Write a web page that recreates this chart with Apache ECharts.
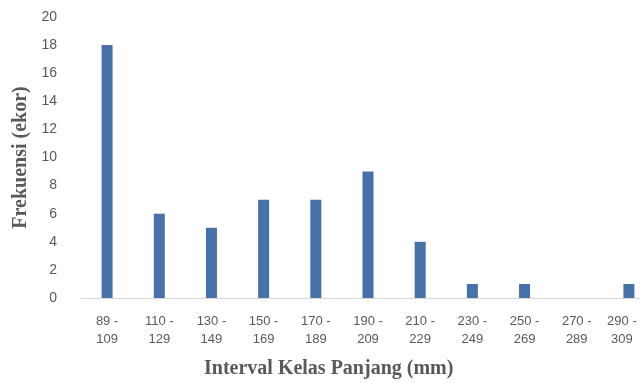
<!DOCTYPE html>
<html>
<head>
<meta charset="utf-8">
<script src="https://cdn.jsdelivr.net/npm/echarts@6/dist/echarts.min.js"></script>
<style>html,body{margin:0;padding:0;background:#fff}#c{width:640px;height:383px}</style>
</head>
<body>
<div id="c"></div>
<script>
const categories = ['89 -\n109','110 -\n129','130 -\n149','150 -\n169','170 -\n189','190 -\n209','210 -\n229','230 -\n249','250 -\n269','270 -\n289','290 -\n309'];
const frekuensi = [18, 6, 5, 7, 7, 9, 4, 1, 1, 0, 1];
const yTicks = { min: 0, max: 20, interval: 2 };
const xTitle = 'Interval Kelas Panjang (mm)';
const yTitle = 'Frekuensi (ekor)';

const catData = categories.map((c, i) => i === categories.length - 1
  ? { value: c, textStyle: { padding: [0, 14, 0, 0] } }
  : c);

const chart = echarts.init(document.getElementById('c'), null, { renderer: 'canvas' });
chart.setOption({
  animation: false,
  backgroundColor: '#ffffff',
  grid: { left: 81, width: 574, top: 17, bottom: 85, outerBoundsMode: 'none', containLabel: false },
  xAxis: {
    type: 'category',
    data: catData,
    axisLine: { lineStyle: { color: '#d9d9d9', width: 1 } },
    axisTick: { show: false },
    axisLabel: { color: '#595959', fontFamily: 'Liberation Sans', fontSize: 13, lineHeight: 18, margin: 14, interval: 0 }
  },
  yAxis: {
    type: 'value',
    min: yTicks.min, max: yTicks.max, interval: yTicks.interval,
    splitLine: { show: false },
    axisLine: { show: false },
    axisTick: { show: false },
    axisLabel: { color: '#595959', fontFamily: 'Liberation Sans', fontSize: 14, margin: 24 },
    name: yTitle,
    nameLocation: 'middle',
    nameGap: 50,
    nameRotate: 90,
    nameTextStyle: { fontFamily: 'Liberation Serif', fontWeight: 'bold', fontSize: 20, color: '#595959' }
  },
  graphic: [{
    type: 'text',
    left: 330 - 126, top: 359,
    style: { text: xTitle, font: 'bold 20px "Liberation Serif"', fill: '#595959' }
  }],
  series: [{
    type: 'bar',
    data: frekuensi,
    barWidth: 11,
    itemStyle: { color: '#4672a9' }
  }]
});
</script>
</body>
</html>
